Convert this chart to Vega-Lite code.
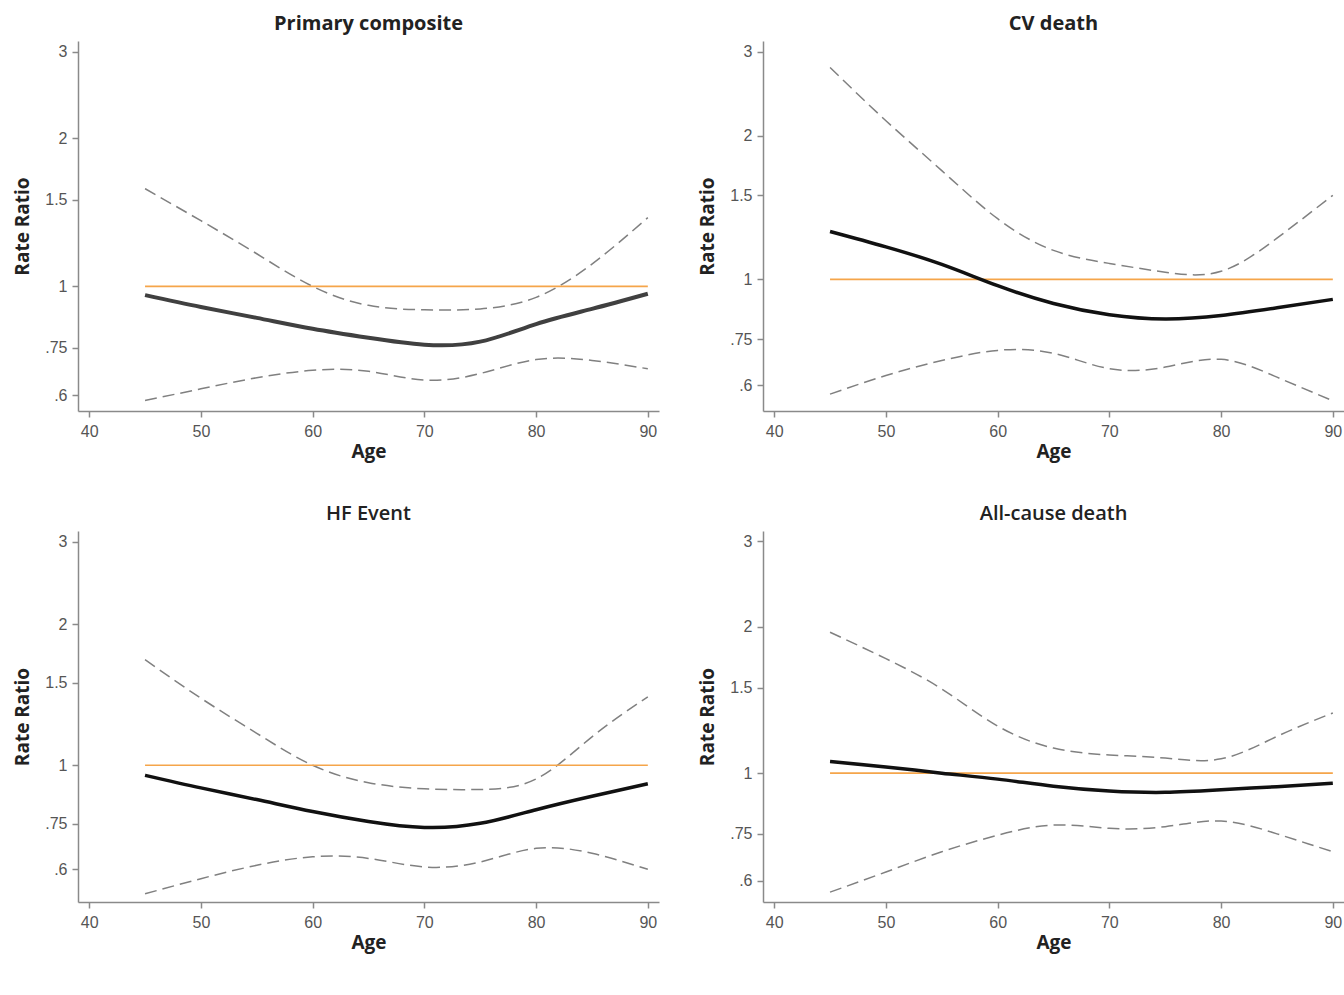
{
  "$schema": "https://vega.github.io/schema/vega-lite/v6.json",
  "background": "white",
  "padding": {"left": 13, "top": 14, "right": 2, "bottom": 10},
  "datasets": {
    "curves": [
      {"panel": "Primary composite", "age": 45, "est": 0.96, "lo": 0.586, "hi": 1.58},
      {"panel": "Primary composite", "age": 50, "est": 0.908, "lo": 0.619, "hi": 1.36},
      {"panel": "Primary composite", "age": 55, "est": 0.863, "lo": 0.652, "hi": 1.165},
      {"panel": "Primary composite", "age": 60, "est": 0.82, "lo": 0.675, "hi": 1.0},
      {"panel": "Primary composite", "age": 65, "est": 0.786, "lo": 0.672, "hi": 0.915},
      {"panel": "Primary composite", "age": 70, "est": 0.761, "lo": 0.645, "hi": 0.896},
      {"panel": "Primary composite", "age": 75, "est": 0.772, "lo": 0.665, "hi": 0.9},
      {"panel": "Primary composite", "age": 80, "est": 0.838, "lo": 0.71, "hi": 0.95},
      {"panel": "Primary composite", "age": 85, "est": 0.9, "lo": 0.707, "hi": 1.11},
      {"panel": "Primary composite", "age": 90, "est": 0.966, "lo": 0.68, "hi": 1.38},
      {"panel": "CV death", "age": 45, "est": 1.26, "lo": 0.575, "hi": 2.78},
      {"panel": "CV death", "age": 50, "est": 1.17, "lo": 0.629, "hi": 2.15},
      {"panel": "CV death", "age": 55, "est": 1.075, "lo": 0.676, "hi": 1.69},
      {"panel": "CV death", "age": 60, "est": 0.97, "lo": 0.71, "hi": 1.34},
      {"panel": "CV death", "age": 65, "est": 0.89, "lo": 0.7, "hi": 1.15},
      {"panel": "CV death", "age": 70, "est": 0.843, "lo": 0.65, "hi": 1.08},
      {"panel": "CV death", "age": 75, "est": 0.826, "lo": 0.655, "hi": 1.035},
      {"panel": "CV death", "age": 80, "est": 0.84, "lo": 0.68, "hi": 1.04},
      {"panel": "CV death", "age": 85, "est": 0.872, "lo": 0.624, "hi": 1.22},
      {"panel": "CV death", "age": 90, "est": 0.908, "lo": 0.557, "hi": 1.5},
      {"panel": "HF Event", "age": 45, "est": 0.952, "lo": 0.532, "hi": 1.68},
      {"panel": "HF Event", "age": 50, "est": 0.895, "lo": 0.573, "hi": 1.39},
      {"panel": "HF Event", "age": 55, "est": 0.845, "lo": 0.612, "hi": 1.17},
      {"panel": "HF Event", "age": 60, "est": 0.797, "lo": 0.638, "hi": 1.0},
      {"panel": "HF Event", "age": 65, "est": 0.759, "lo": 0.633, "hi": 0.918},
      {"panel": "HF Event", "age": 70, "est": 0.737, "lo": 0.607, "hi": 0.891},
      {"panel": "HF Event", "age": 75, "est": 0.752, "lo": 0.622, "hi": 0.888},
      {"panel": "HF Event", "age": 80, "est": 0.804, "lo": 0.665, "hi": 0.935},
      {"panel": "HF Event", "age": 85, "est": 0.859, "lo": 0.649, "hi": 1.15},
      {"panel": "HF Event", "age": 90, "est": 0.913, "lo": 0.6, "hi": 1.4},
      {"panel": "All-cause death", "age": 45, "est": 1.057, "lo": 0.569, "hi": 1.95},
      {"panel": "All-cause death", "age": 50, "est": 1.03, "lo": 0.626, "hi": 1.72},
      {"panel": "All-cause death", "age": 55, "est": 1.0, "lo": 0.689, "hi": 1.49},
      {"panel": "All-cause death", "age": 60, "est": 0.972, "lo": 0.745, "hi": 1.25},
      {"panel": "All-cause death", "age": 65, "est": 0.94, "lo": 0.782, "hi": 1.126},
      {"panel": "All-cause death", "age": 70, "est": 0.919, "lo": 0.77, "hi": 1.09},
      {"panel": "All-cause death", "age": 75, "est": 0.913, "lo": 0.776, "hi": 1.074},
      {"panel": "All-cause death", "age": 80, "est": 0.924, "lo": 0.797, "hi": 1.07},
      {"panel": "All-cause death", "age": 85, "est": 0.938, "lo": 0.75, "hi": 1.19},
      {"panel": "All-cause death", "age": 90, "est": 0.953, "lo": 0.689, "hi": 1.33}
    ]
  },
  "data": {"name": "curves"},
  "columns": 2,
  "spacing": {"column": 104, "row": 120},
  "bounds": "flush",
  "concat": [
    {
      "width": 581, "height": 370,
      "title": {"text": "Primary composite", "fontWeight": "bold"},
      "transform": [{"filter": "datum.panel === 'Primary composite'"}, {"fold": ["lo", "hi", "est"], "as": ["series", "value"]}],
      "encoding": {
        "x": {"field": "age", "type": "quantitative", "scale": {"domain": [39, 91], "nice": false, "zero": false}, "axis": {"values": [40, 50, 60, 70, 80, 90], "title": "Age"}},
        "y": {"field": "value", "type": "quantitative", "scale": {"type": "log", "domain": [0.558, 3.154], "nice": false}, "axis": {"values": [0.6, 0.75, 1, 1.5, 2, 3], "labelExpr": "datum.value < 1 ? replace(toString(datum.value), '0.', '.') : toString(datum.value)", "title": "Rate Ratio"}}
      },
      "layer": [
        {"transform": [{"filter": "datum.series !== 'est'"}], "mark": {"type": "line", "interpolate": "natural", "strokeDash": [12, 6], "color": "#808080", "strokeWidth": 1.5}, "encoding": {"detail": {"field": "series"}}},
        {"transform": [{"filter": "datum.series === 'est' && datum.age === 45"}], "mark": {"type": "rule", "color": "#f5a54a", "strokeWidth": 1.6}, "encoding": {"x": {"datum": 45}, "x2": {"datum": 90}, "y": {"datum": 1}}},
        {"transform": [{"filter": "datum.series === 'est'"}], "mark": {"type": "line", "interpolate": "natural", "color": "#404040", "strokeWidth": 4}}
      ]
    },
    {
      "width": 581, "height": 370,
      "title": {"text": "CV death", "fontWeight": "bold"},
      "transform": [{"filter": "datum.panel === 'CV death'"}, {"fold": ["lo", "hi", "est"], "as": ["series", "value"]}],
      "encoding": {
        "x": {"field": "age", "type": "quantitative", "scale": {"domain": [39, 91], "nice": false, "zero": false}, "axis": {"values": [40, 50, 60, 70, 80, 90], "title": "Age"}},
        "y": {"field": "value", "type": "quantitative", "scale": {"type": "log", "domain": [0.53, 3.158], "nice": false}, "axis": {"values": [0.6, 0.75, 1, 1.5, 2, 3], "labelExpr": "datum.value < 1 ? replace(toString(datum.value), '0.', '.') : toString(datum.value)", "title": "Rate Ratio"}}
      },
      "layer": [
        {"transform": [{"filter": "datum.series !== 'est'"}], "mark": {"type": "line", "interpolate": "natural", "strokeDash": [12, 6], "color": "#808080", "strokeWidth": 1.5}, "encoding": {"detail": {"field": "series"}}},
        {"transform": [{"filter": "datum.series === 'est' && datum.age === 45"}], "mark": {"type": "rule", "color": "#f5a54a", "strokeWidth": 1.6}, "encoding": {"x": {"datum": 45}, "x2": {"datum": 90}, "y": {"datum": 1}}},
        {"transform": [{"filter": "datum.series === 'est'"}], "mark": {"type": "line", "interpolate": "natural", "color": "#111111", "strokeWidth": 3.5}}
      ]
    },
    {
      "width": 581, "height": 371,
      "title": {"text": "HF Event", "fontWeight": 600},
      "transform": [{"filter": "datum.panel === 'HF Event'"}, {"fold": ["lo", "hi", "est"], "as": ["series", "value"]}],
      "encoding": {
        "x": {"field": "age", "type": "quantitative", "scale": {"domain": [39, 91], "nice": false, "zero": false}, "axis": {"values": [40, 50, 60, 70, 80, 90], "title": "Age"}},
        "y": {"field": "value", "type": "quantitative", "scale": {"type": "log", "domain": [0.511, 3.16], "nice": false}, "axis": {"values": [0.6, 0.75, 1, 1.5, 2, 3], "labelExpr": "datum.value < 1 ? replace(toString(datum.value), '0.', '.') : toString(datum.value)", "title": "Rate Ratio"}}
      },
      "layer": [
        {"transform": [{"filter": "datum.series !== 'est'"}], "mark": {"type": "line", "interpolate": "natural", "strokeDash": [12, 6], "color": "#808080", "strokeWidth": 1.5}, "encoding": {"detail": {"field": "series"}}},
        {"transform": [{"filter": "datum.series === 'est' && datum.age === 45"}], "mark": {"type": "rule", "color": "#f5a54a", "strokeWidth": 1.6}, "encoding": {"x": {"datum": 45}, "x2": {"datum": 90}, "y": {"datum": 1}}},
        {"transform": [{"filter": "datum.series === 'est'"}], "mark": {"type": "line", "interpolate": "natural", "color": "#111111", "strokeWidth": 3.5}}
      ]
    },
    {
      "width": 581, "height": 371,
      "title": {"text": "All-cause death", "fontWeight": 600},
      "transform": [{"filter": "datum.panel === 'All-cause death'"}, {"fold": ["lo", "hi", "est"], "as": ["series", "value"]}],
      "encoding": {
        "x": {"field": "age", "type": "quantitative", "scale": {"domain": [39, 91], "nice": false, "zero": false}, "axis": {"values": [40, 50, 60, 70, 80, 90], "title": "Age"}},
        "y": {"field": "value", "type": "quantitative", "scale": {"type": "log", "domain": [0.543, 3.15], "nice": false}, "axis": {"values": [0.6, 0.75, 1, 1.5, 2, 3], "labelExpr": "datum.value < 1 ? replace(toString(datum.value), '0.', '.') : toString(datum.value)", "title": "Rate Ratio"}}
      },
      "layer": [
        {"transform": [{"filter": "datum.series !== 'est'"}], "mark": {"type": "line", "interpolate": "natural", "strokeDash": [12, 6], "color": "#808080", "strokeWidth": 1.5}, "encoding": {"detail": {"field": "series"}}},
        {"transform": [{"filter": "datum.series === 'est' && datum.age === 45"}], "mark": {"type": "rule", "color": "#f5a54a", "strokeWidth": 1.6}, "encoding": {"x": {"datum": 45}, "x2": {"datum": 90}, "y": {"datum": 1}}},
        {"transform": [{"filter": "datum.series === 'est'"}], "mark": {"type": "line", "interpolate": "natural", "color": "#111111", "strokeWidth": 3.5}}
      ]
    }
  ],
  "config": {
    "view": {"stroke": null},
    "axis": {
      "grid": false,
      "domainColor": "#8a8a8a",
      "domainWidth": 1.5,
      "tickColor": "#8a8a8a",
      "tickWidth": 1.5,
      "tickSize": 6,
      "labelFont": "Liberation Sans Narrow, Liberation Sans, sans-serif",
      "labelFontSize": 16,
      "labelColor": "#555555",
      "labelPadding": 4,
      "titleFont": "Open Sans",
      "titleFontSize": 19,
      "titleFontWeight": "bold",
      "titleColor": "#222222"
    },
    "axisX": {"titlePadding": 3, "labelPadding": 6},
    "axisY": {"titlePadding": 12, "labelPadding": 5},
    "title": {"font": "Open Sans", "fontSize": 20, "color": "#222222", "anchor": "middle", "offset": 7}
  }
}
